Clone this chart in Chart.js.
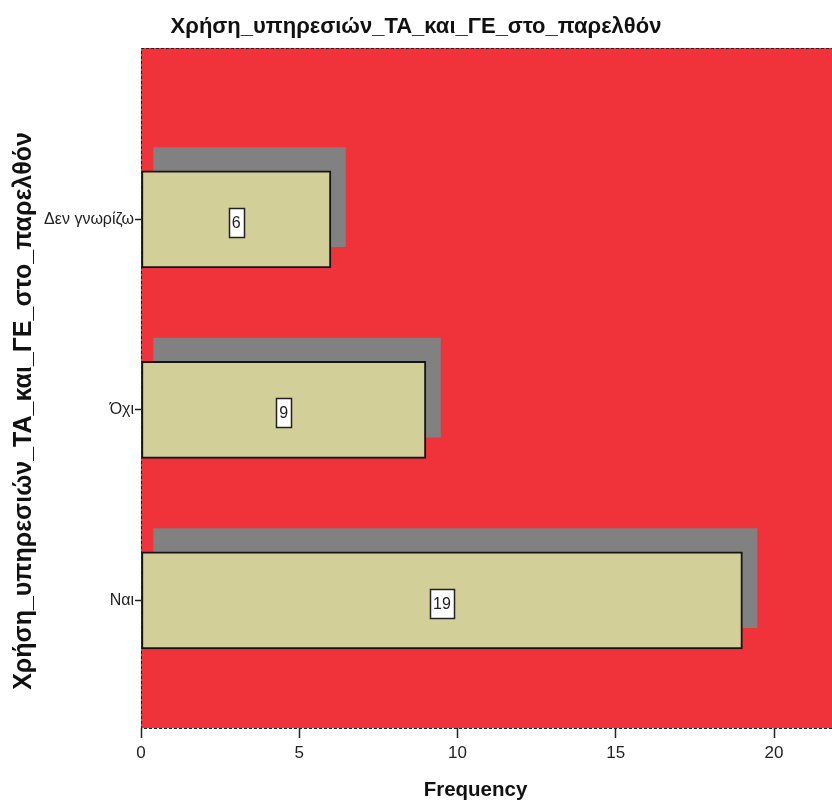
<!DOCTYPE html>
<html>
<head>
<meta charset="utf-8">
<title>Χρήση_υπηρεσιών_ΤΑ_και_ΓΕ_στο_παρελθόν</title>
<script src="https://cdn.jsdelivr.net/npm/chart.js@4/dist/chart.umd.min.js"></script>
<style>
  html, body { margin: 0; padding: 0; background: #ffffff; }
  #wrap { width: 832px; height: 804px; }
</style>
</head>
<body>
<div id="wrap"><canvas id="chart" width="832" height="804"></canvas></div>
<script>
// Categories (top to bottom) and their frequencies
const categories = ['Δεν γνωρίζω', 'Όχι', 'Ναι'];
const frequencies = [6, 9, 19];
const frequencyTicks = [0, 5, 10, 15, 20];

const chartTitle = 'Χρήση_υπηρεσιών_ΤΑ_και_ΓΕ_στο_παρελθόν';
const axisTitleY = 'Χρήση_υπηρεσιών_ΤΑ_και_ΓΕ_στο_παρελθόν';
const axisTitleX = 'Frequency';

// Drop-shadow offsets (in axis units) for the 3D-style bars
const SHADOW_START = 0.4;
const SHADOW_EXTRA = 0.46;
const SHADOW_LIFT = 0.117;

const NARROW = "'Liberation Sans Narrow', 'Arial Narrow', 'Liberation Sans', Arial, sans-serif";
const SANS = "'Liberation Sans', Arial, Helvetica, sans-serif";

const PLOT_BG = '#f0333b';
const BAR_FILL = '#d3cf99';
const SHADOW_FILL = '#818181';

// Red plot area background
const plotBackground = {
  id: 'plotBackground',
  beforeDraw(chart) {
    const { ctx, chartArea: a } = chart;
    ctx.save();
    ctx.fillStyle = PLOT_BG;
    ctx.fillRect(a.left, a.top, a.right - a.left, a.bottom - a.top);
    ctx.restore();
  }
};

// Dashed frame around the plot area
const plotFrame = {
  id: 'plotFrame',
  afterDatasetsDraw(chart) {
    const { ctx, chartArea: a } = chart;
    ctx.save();
    ctx.strokeStyle = '#222';
    ctx.lineWidth = 1;
    ctx.setLineDash([3, 2]);
    ctx.beginPath();
    ctx.moveTo(a.right + 2, Math.round(a.top) + 0.5);
    ctx.lineTo(Math.round(a.left) + 0.5, Math.round(a.top) + 0.5);
    ctx.lineTo(Math.round(a.left) + 0.5, Math.round(a.bottom) + 0.5);
    ctx.lineTo(a.right + 2, Math.round(a.bottom) + 0.5);
    ctx.stroke();
    ctx.restore();
  }
};

// Axis titles, placed a little off the plot centre as in the SPSS layout
const axisTitles = {
  id: 'axisTitles',
  afterDraw(chart) {
    const { ctx, chartArea: a } = chart;
    ctx.save();
    ctx.fillStyle = '#111';
    ctx.textAlign = 'center';
    ctx.textBaseline = 'middle';
    // vertical title
    ctx.font = 'bold 25px ' + SANS;
    ctx.translate(24, (a.top + a.bottom) / 2 + 23);
    ctx.rotate(-Math.PI / 2);
    ctx.fillText(axisTitleY, 0, 0);
    ctx.restore();
    ctx.save();
    ctx.fillStyle = '#111';
    ctx.textAlign = 'center';
    ctx.textBaseline = 'middle';
    ctx.font = 'bold 20.5px ' + NARROW;
    ctx.fillText(axisTitleX, (a.left + a.right) / 2 - 11, chart.height - 14);
    ctx.restore();
  }
};

// Boxed value labels in the middle of each bar
const valueBoxes = {
  id: 'valueBoxes',
  afterDatasetsDraw(chart) {
    const { ctx } = chart;
    const meta = chart.getDatasetMeta(1);
    ctx.save();
    ctx.font = '16px ' + NARROW;
    ctx.textAlign = 'center';
    ctx.textBaseline = 'middle';
    meta.data.forEach((bar, i) => {
      const text = String(frequencies[i]);
      const cx = (bar.base + bar.x) / 2;
      const cy = bar.y + 3;
      const w = Math.round(ctx.measureText(text).width + 6);
      const h = 29;
      const x0 = Math.round(cx - w / 2) + 0.5;
      const y0 = Math.round(cy - h / 2) + 0.5;
      ctx.fillStyle = '#ffffff';
      ctx.fillRect(x0, y0, w, h);
      ctx.strokeStyle = '#222';
      ctx.lineWidth = 1.5;
      ctx.strokeRect(x0, y0, w, h);
      ctx.fillStyle = '#222';
      ctx.fillText(text, cx, cy + 1);
    });
    ctx.restore();
  }
};

new Chart(document.getElementById('chart'), {
  type: 'bar',
  data: {
    datasets: [
      {
        label: 'shadow',
        data: frequencies.map((v, i) => ({ x: [SHADOW_START, v + SHADOW_EXTRA], y: i - SHADOW_LIFT })),
        backgroundColor: SHADOW_FILL,
        borderWidth: 0,
        barThickness: 99,
        grouped: false,
        order: 2
      },
      {
        label: axisTitleX,
        data: frequencies.map((v, i) => ({ x: v, y: i })),
        backgroundColor: BAR_FILL,
        borderColor: '#151515',
        borderWidth: 2,
        borderSkipped: false,
        barThickness: 97,
        grouped: false,
        order: 1
      }
    ]
  },
  options: {
    indexAxis: 'y',
    responsive: false,
    animation: false,
    devicePixelRatio: 1,
    layout: { padding: { left: 0, right: 0, top: 0, bottom: 0 } },
    plugins: {
      legend: { display: false },
      tooltip: { enabled: false },
      title: {
        display: true,
        text: chartTitle,
        color: '#111',
        font: { family: NARROW, size: 22, weight: 'bold', lineHeight: 1.2 },
        padding: { top: 14, bottom: 7.6 }
      }
    },
    scales: {
      x: {
        type: 'linear',
        position: 'bottom',
        min: 0,
        max: 21.83,
        afterBuildTicks(scale) {
          scale.ticks = frequencyTicks.map(v => ({ value: v }));
        },
        afterFit(scale) { scale.height = 76; },
        grid: {
          display: true,
          drawOnChartArea: false,
          drawTicks: true,
          tickLength: 10,
          tickWidth: 1.5,
          color: '#222'
        },
        border: { display: false },
        ticks: {
          color: '#222',
          padding: 5,
          font: { family: NARROW, size: 17 },
          maxRotation: 0
        },
        title: { display: false }
      },
      y: {
        type: 'linear',
        position: 'left',
        reverse: true,
        offset: false,
        min: -0.90,
        max: 2.67,
        afterBuildTicks(scale) {
          scale.ticks = categories.map((c, i) => ({ value: i }));
        },
        afterFit(scale) { scale.width = 141; },
        grid: {
          display: true,
          offset: false,
          drawOnChartArea: false,
          drawTicks: true,
          tickLength: 6,
          tickWidth: 1.5,
          color: '#222'
        },
        border: { display: false },
        ticks: {
          color: '#222',
          padding: 1,
          font: { family: SANS, size: 16 },
          callback: (value) => categories[value]
        },
        title: { display: false }
      }
    }
  },
  plugins: [plotBackground, plotFrame, valueBoxes, axisTitles]
});
</script>
</body>
</html>
